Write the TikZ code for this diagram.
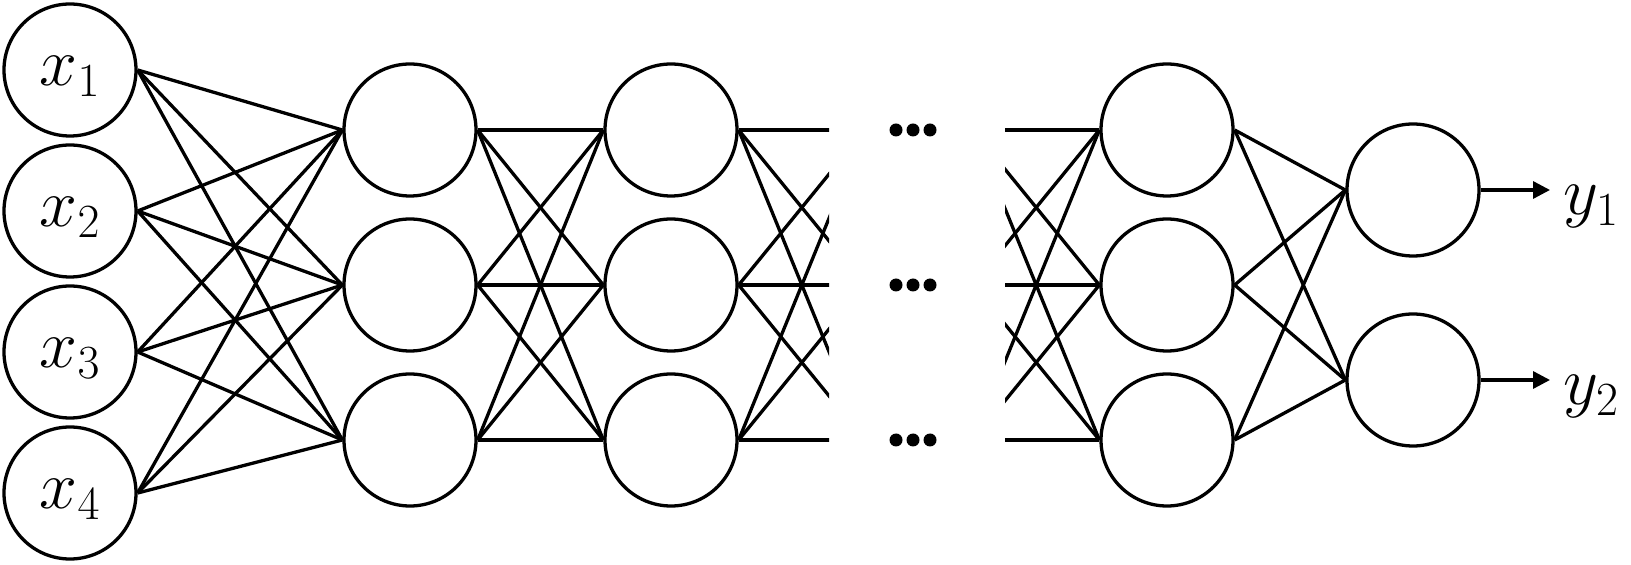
\RequirePackage{fix-cm}
\documentclass[tikz,border=0pt]{standalone}
\usepackage{amsmath}
\usepackage{tikz}
\usetikzlibrary{arrows.meta}
\tikzset{neuron/.style={draw,circle,line width=1.65pt,minimum size=66pt,inner sep=0pt,
  font=\fontsize{34}{40}\selectfont,text height=21pt,text depth=5pt}}

\begin{document}
\begin{tikzpicture}[x=0.5pt,y=-0.5pt,line width=1.65pt]
\tikzset{outarrow/.style={-{Triangle[length=8.5pt,width=8.5pt]}},
  outlabel/.style={anchor=base west,inner sep=0pt,font=\fontsize{34}{40}\selectfont}}
\useasboundingbox (0,0) rectangle (1631,565);
% layers
\foreach \i in {1,...,4} \node[neuron] (in\i) at (70,{70+141*(\i-1)}) {$x_\i$};
\foreach \i/\y in {1/130,2/285,3/440} {
  \node[neuron] (ha\i) at (410,\y) {};
  \node[neuron] (hb\i) at (671,\y) {};
  \node[neuron] (hc\i) at (1167,\y) {};
  \coordinate (gl\i) at (865,\y);
  \coordinate (gr\i) at (973,\y);
  \foreach \d in {-17,0,17} \fill (913+\d,\y) circle (6.5);
}
\node[neuron] (out1) at (1413,190) {};
\node[neuron] (out2) at (1413,380) {};
% connections
\foreach \i in {1,...,4} \foreach \j in {1,2,3} \draw (in\i.east) -- (ha\j.west);
\foreach \i in {1,2,3} \foreach \j in {1,2,3} \draw (ha\i.east) -- (hb\j.west);
\foreach \i in {1,2,3} \foreach \j in {1,2} \draw (hc\i.east) -- (out\j.west);
\begin{scope}
\clip (700,0) rectangle (829,565);
\foreach \i in {1,2,3} \foreach \j in {1,2,3} \draw (hb\i.east) -- (gl\j);
\end{scope}
\begin{scope}
\clip (1005,0) rectangle (1110,565);
\foreach \i in {1,2,3} \foreach \j in {1,2,3} \draw (gr\i) -- (hc\j.west);
\end{scope}
% outputs
\coordinate (tip1) at (1550,190);
\coordinate (tip2) at (1550,380);
\draw[outarrow] (out1.east) -- (tip1);
\draw[outarrow] (out2.east) -- (tip2);
\node[outlabel] (y1) at (1562,215) {$y_1$};
\node[outlabel] (y2) at (1562,405) {$y_2$};
\end{tikzpicture}
\end{document}
